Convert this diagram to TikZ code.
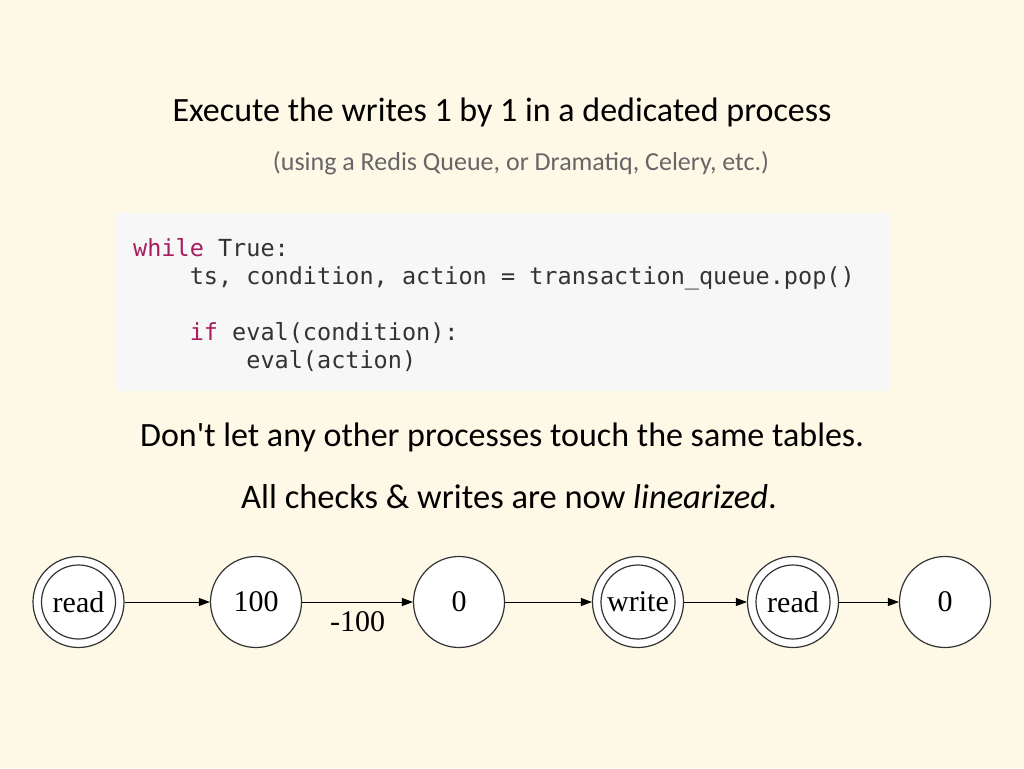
\documentclass[tikz,border=0pt]{standalone}
\usepackage{fontspec}
\setmainfont{Carlito}
\newfontfamily\codefont{DejaVu Sans Mono}
\newfontfamily\graphfont{Liberation Serif}
\usetikzlibrary{arrows.meta}
\definecolor{bg}{HTML}{FEF8E7}
\definecolor{codebg}{HTML}{F7F7F7}
\definecolor{codetext}{HTML}{333333}
\definecolor{kw}{HTML}{A71D5D}
\definecolor{subgray}{HTML}{666666}
\definecolor{ringcol}{HTML}{333333}
\tikzset{
  x=1pt, y=-1pt,
  titletext/.style={font=\fontsize{34}{40}\selectfont, text=black, inner sep=0pt},
  subtext/.style={font=\fontsize{26}{31}\selectfont, text=subgray, inner sep=0pt},
  codeline/.style={font=\codefont\fontsize{23.5}{28}\selectfont, text=codetext, inner sep=0pt, anchor=base west},
  state/.style={circle, draw=ringcol, line width=1.2pt, fill=white, minimum size=91pt, inner sep=0pt,
    font=\graphfont\fontsize{30}{34}\selectfont},
  ring/.style={draw=ringcol, line width=1.2pt},
  edge/.style={draw=black, line width=1pt, -{Triangle[length=11pt,width=8pt]}},
  edgelabel/.style={font=\graphfont\fontsize{30}{34}\selectfont, inner sep=0pt}
}
\begin{document}
\begin{tikzpicture}
\fill[bg] (0,0) rectangle (1024,768);
\useasboundingbox (0,0) rectangle (1024,768);
\fill[codebg] (115,213) rectangle (890,391);

\node[titletext] (title) at (502,112) {Execute the writes 1 by 1 in a dedicated process};
\node[subtext] (sub) at (521,163) {(using a Redis Queue, or Dramatiq, Celery, etc.)};

\node[codeline] (c1) at (133,256) {\textcolor{kw}{while} True:};
\node[codeline] (c2) at (133,284) {\phantom{1234}ts, condition, action = transaction\_queue.pop()};
\node[codeline] (c3) at (133,340) {\phantom{1234}\textcolor{kw}{if} eval(condition):};
\node[codeline] (c4) at (133,368) {\phantom{12345678}eval(action)};

\node[titletext] (t2) at (502,437) {Don\textquotesingle t let any other processes touch the same tables.};
\node[titletext, font=\fontsize{34.5}{40}\selectfont] (t3) at (509,497) {All checks \& writes are now \textit{linearized}.};

\node[state] (n1) at (78.5,602) {read};
\node[state] (n2) at (256,602) {100};
\node[state] (n3) at (459,602) {0};
\node[state] (n4) at (638,602) {write};
\node[state] (n5) at (793,602) {read};
\node[state] (n6) at (945,602) {0};
\draw[ring] (n1.center) circle (37);
\draw[ring] (n4.center) circle (37);
\draw[ring] (n5.center) circle (37);

\draw[edge] (n1) -- (n2);
\draw[edge] (n2) -- node[edgelabel, below=9pt] (lab) {-100} (n3);
\draw[edge] (n3) -- (n4);
\draw[edge] (n4) -- (n5);
\draw[edge] (n5) -- (n6);
\end{tikzpicture}
\end{document}
